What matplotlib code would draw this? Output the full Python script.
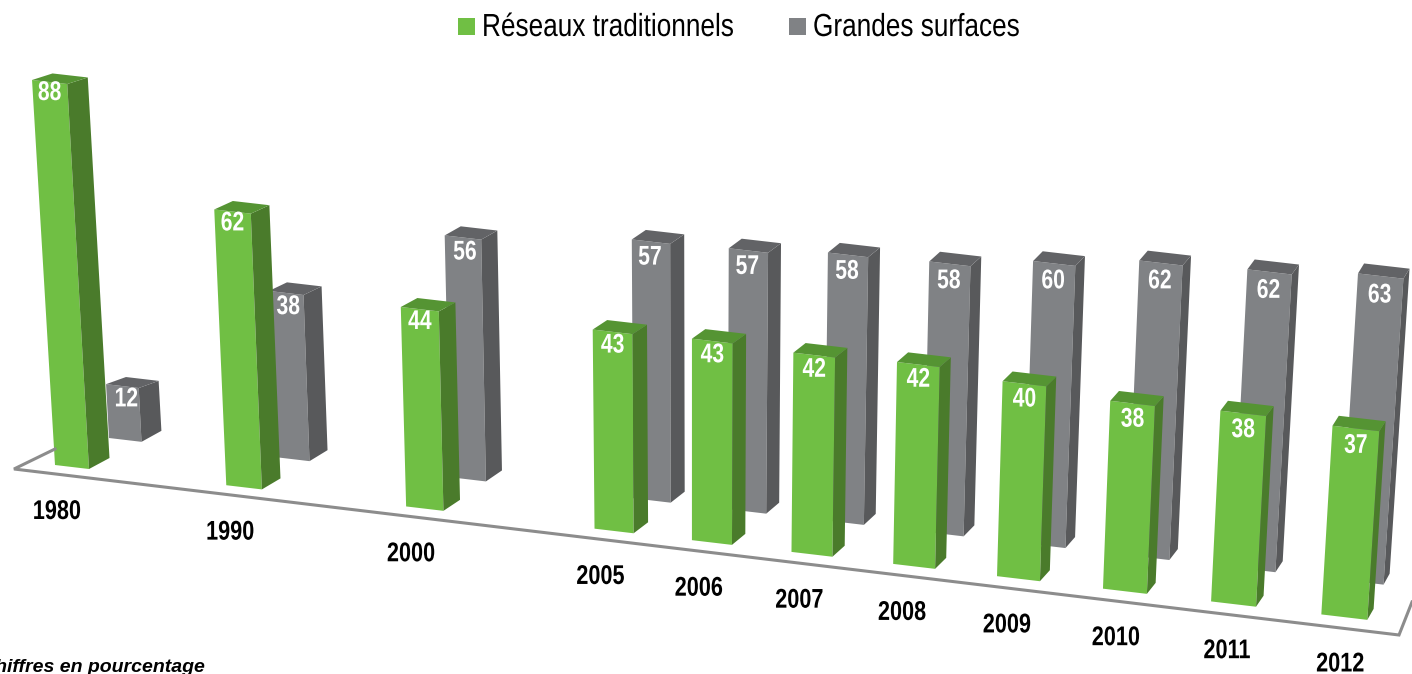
import numpy as np
import matplotlib
matplotlib.use("Agg")
import matplotlib.pyplot as plt
from matplotlib.patheffects import AbstractPathEffect
from matplotlib.transforms import Affine2D

years = [1980, 1990, 2000, 2005, 2006, 2007, 2008, 2009, 2010, 2011, 2012]
reseaux = [88, 62, 44, 43, 43, 42, 42, 40, 38, 38, 37]
grandes = [12, 38, 56, 57, 57, 58, 58, 60, 62, 62, 63]
series_names = ["Réseaux traditionnels", "Grandes surfaces"]
note = "Chiffres en pourcentage"

green = {"front": "#70BF44", "side": "#4A7B2B", "top": "#559433"}
grey = {"front": "#808285", "side": "#58595B", "top": "#626366"}
axis_col = "#8C8C8C"
font = "Liberation Sans"

fig = plt.figure(figsize=(14.12, 6.74), dpi=100)
ax = fig.add_axes([0, 0, 1, 1])
ax.set_xlim(0, 1412)
ax.set_ylim(674, 0)
ax.axis("off")

# the old years take two slots on the axis, the later ones only one
slots = np.cumsum([0] + [2 if y < 2005 else 1 for y in years[:-1]])


# no narrow font here, so squeeze the glyphs sideways around the anchor
class Squeeze(AbstractPathEffect):
    def __init__(self, x, factor):
        super().__init__()
        self.x = x
        self.factor = factor

    def draw_path(self, renderer, gc, tpath, affine, rgbFace=None):
        x0 = ax.transData.transform((self.x, 0))[0]
        squeezed = affine + Affine2D().translate(-x0, 0).scale(self.factor, 1).translate(x0, 0)
        renderer.draw_path(gc, tpath, squeezed, rgbFace)


def narrow_text(x, y, s, size, factor, **kw):
    t = ax.text(x, y, s, fontsize=size, family=font, va="center", **kw)
    t.set_path_effects([Squeeze(x, factor)])
    return t


# hand made perspective, fitted on the picture
def floor_x(slot):
    return 55 + 83.5 * slot + 1.07 * slot ** 2

def floor_y(x):
    return 465 + 0.118 * (x - 55)

def bar_width(x):
    return 34 + 0.00946 * (x - 55)

def lean(x):
    return (x - 691) * 9.38e-5

def depth_x(x):
    return 20.5 - 0.0112 * (x - 55)

def depth_top(x):
    return np.interp(x, [50, 230, 600, 1350], [-6.5, -8.5, -9.5, -10])

def unit_height(x):
    return 4.375 + 0.000474 * (x - 55) + 1.34e-7 * (x - 55) * (x - 593)

def grey_factor(x):
    return np.interp(x, [55, 227, 406, 593, 1323], [1.02, 0.978, 0.948, 0.976, 0.95])


def draw_bar(slot, value, colors, behind):
    x = floor_x(slot)
    y = floor_y(x)
    h = unit_height(x) * value
    if behind:
        gx = x
        x = gx + 54 - 36 * (gx - 55) / 1268
        y = y - 27 - 8 * (gx - 55) / 1268
        h = unit_height(x) * grey_factor(gx) * value
    w = bar_width(x) - (2 if behind else 0)
    dx = depth_x(x)
    dy_top = depth_top(x)

    fl = (x, y)
    fr = (x + w, y + 0.118 * w)
    tl = (x + lean(x) * h, y - h)
    tr = (x + w + lean(x + w) * h, y + 0.118 * w - h)
    br = (fr[0] + dx, fr[1] - 11)
    t_br = (tr[0] + dx, tr[1] + dy_top)
    t_bl = (tl[0] + dx, tl[1] + dy_top)

    ax.fill(*zip(fl, fr, tr, tl), color=colors["front"], lw=0)
    ax.fill(*zip(fr, br, t_br, tr), color=colors["side"], lw=0)
    ax.fill(*zip(tl, tr, t_br, t_bl), color=colors["top"], lw=0)

    # value label, a bit under the top of the front face
    cx = (tl[0] + tr[0]) / 2
    cy = (tl[1] + tr[1]) / 2 + 11 + 0.005 * (x - 50)
    if behind:
        cx += np.interp(x, [109, 280, 460, 630], [4, 2, 2, -1])
        cy += 2
    narrow_text(cx, cy, str(value), 19.5, 0.78, color="white", fontweight="bold", ha="center")


# floor
ax.plot([55, 14, 1399, 1412], [449, 469, 635, 602], color=axis_col, lw=2.2,
        solid_joinstyle="miter")

for s, v in zip(slots, grandes):
    draw_bar(s, v, grey, True)
for s, v in zip(slots, reseaux):
    draw_bar(s, v, green, False)

# year labels under the floor line
for s, year in zip(slots, years):
    x = floor_x(s)
    shift = np.interp(x, [55, 227, 406, 594, 997, 1103, 1321], [2, 4, 5, 6, 10, 13, 19])
    narrow_text(x + shift, floor_y(x) + 47 + 0.0024 * (x - 55), str(year),
                19.5, 0.8, fontweight="bold", color="black", ha="center")

# legend
ax.fill([458, 475, 475, 458], [18, 18, 35, 35], color=green["front"], lw=0)
ax.fill([789, 806, 806, 789], [18, 18, 35, 35], color=grey["front"], lw=0)
narrow_text(482, 28, series_names[0], 23, 0.82, color="black", ha="left")
narrow_text(813, 28, series_names[1], 23, 0.82, color="black", ha="left")

# cut by the left and bottom edges in the reference too
ax.text(205, 672, note, fontsize=14, fontweight="bold", style="italic",
        family=font, ha="right", va="baseline")

fig.savefig("out.png", dpi=100)
